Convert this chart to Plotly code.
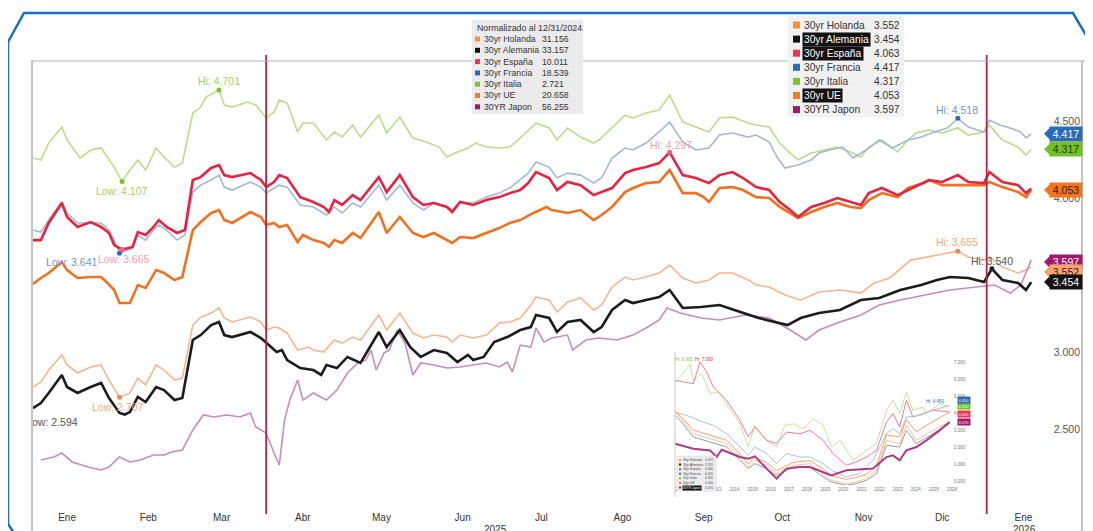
import numpy as np
import pandas as pd
import plotly.graph_objects as go

START = pd.Timestamp("2025-01-02")
FONT = "Liberation Sans, Arial, sans-serif"

# ---------------- main chart data (day offset from 2025-01-02, yield %) ----------------
italia_day = [0, 3, 6, 11, 13, 18, 22, 26, 31, 34, 37, 40, 43, 47, 50, 54, 57, 61, 64, 66, 69, 71, 73, 76, 82, 85,
              89, 92, 94, 97, 101, 103, 107, 112, 115, 118, 122, 125, 132, 135, 140, 145, 150, 155, 158, 162, 166,
              169, 173, 178, 182, 186, 192, 197, 200, 204, 209, 214, 216, 221, 226, 229, 234, 239, 243, 248, 253,
              258, 262, 267, 273, 276, 281, 285, 289, 292, 297, 302, 307, 312, 316, 319, 324, 330, 334, 337, 342,
              347, 353, 357, 363, 365, 370, 376, 379, 381]
italia_val = [4.260, 4.247, 4.357, 4.461, 4.377, 4.260, 4.312, 4.325, 4.201, 4.107, 4.182, 4.247, 4.182, 4.325,
              4.266, 4.201, 4.227, 4.552, 4.591, 4.656, 4.682, 4.701, 4.604, 4.591, 4.623, 4.604, 4.520, 4.558,
              4.636, 4.617, 4.429, 4.487, 4.487, 4.377, 4.429, 4.396, 4.474, 4.396, 4.539, 4.422, 4.526, 4.390,
              4.364, 4.331, 4.266, 4.299, 4.325, 4.357, 4.331, 4.325, 4.331, 4.390, 4.487, 4.455, 4.377, 4.455,
              4.396, 4.357, 4.377, 4.461, 4.539, 4.520, 4.552, 4.571, 4.669, 4.494, 4.461, 4.429, 4.520, 4.526,
              4.487, 4.474, 4.461, 4.357, 4.292, 4.247, 4.292, 4.312, 4.331, 4.299, 4.266, 4.331, 4.377, 4.299,
              4.377, 4.422, 4.442, 4.422, 4.455, 4.409, 4.429, 4.474, 4.377, 4.331, 4.279, 4.317]

espana_day = [0, 3, 6, 11, 13, 17, 22, 26, 29, 31, 34, 38, 40, 43, 46, 48, 51, 55, 58, 61, 64, 68, 71, 73, 76, 83,
              87, 89, 92, 94, 97, 102, 107, 111, 113, 115, 118, 122, 125, 132, 135, 140, 145, 149, 153, 158, 160,
              163, 168, 173, 178, 182, 186, 189, 192, 197, 200, 204, 209, 214, 217, 221, 226, 229, 234, 239, 243,
              248, 253, 258, 262, 267, 271, 276, 281, 285, 289, 292, 297, 302, 307, 312, 316, 319, 324, 330, 334,
              340, 342, 347, 353, 357, 363, 365, 370, 376, 379, 381]
espana_val = [3.727, 3.727, 3.838, 3.968, 3.877, 3.812, 3.844, 3.812, 3.773, 3.695, 3.665, 3.682, 3.779, 3.760,
              3.812, 3.857, 3.812, 3.773, 3.792, 4.117, 4.136, 4.195, 4.214, 4.149, 4.136, 4.162, 4.117, 4.071,
              4.104, 4.149, 4.130, 4.006, 3.974, 3.942, 3.909, 3.987, 3.955, 4.019, 3.987, 4.136, 4.039, 4.149,
              4.006, 3.955, 3.968, 3.942, 3.909, 3.974, 3.955, 3.987, 4.006, 4.032, 4.052, 4.097, 4.169, 4.130,
              4.052, 4.104, 4.084, 4.019, 4.039, 4.065, 4.162, 4.182, 4.201, 4.227, 4.297, 4.149, 4.130, 4.097,
              4.149, 4.169, 4.130, 4.071, 4.052, 3.974, 3.922, 3.877, 3.942, 3.968, 4.000, 3.974, 3.955, 4.032,
              4.065, 4.019, 4.052, 4.097, 4.117, 4.104, 4.149, 4.104, 4.097, 4.169, 4.104, 4.084, 4.032, 4.063]

francia_day = [0, 3, 6, 11, 13, 17, 22, 26, 29, 31, 33, 38, 40, 43, 46, 48, 51, 55, 58, 61, 64, 68, 71, 73, 76, 83,
               87, 89, 92, 94, 97, 102, 107, 112, 115, 118, 122, 125, 132, 135, 140, 145, 149, 153, 158, 160, 163,
               168, 173, 178, 182, 189, 192, 197, 200, 204, 209, 214, 217, 221, 226, 229, 234, 239, 243, 248, 253,
               258, 262, 267, 273, 276, 281, 284, 287, 292, 297, 300, 304, 309, 313, 318, 323, 328, 334, 339, 344,
               349, 353, 357, 363, 365, 369, 373, 377, 379, 381]
francia_val = [3.792, 3.779, 3.857, 3.974, 3.903, 3.838, 3.838, 3.838, 3.792, 3.727, 3.641, 3.675, 3.760, 3.727,
               3.792, 3.825, 3.792, 3.727, 3.760, 4.039, 4.084, 4.117, 4.149, 4.071, 4.052, 4.104, 4.071, 4.032,
               4.065, 4.084, 4.071, 3.955, 3.942, 3.890, 3.942, 3.903, 3.968, 3.942, 4.084, 3.987, 4.084, 3.968,
               3.922, 3.968, 3.942, 3.922, 3.974, 3.968, 4.006, 4.032, 4.065, 4.162, 4.234, 4.201, 4.130, 4.162,
               4.149, 4.097, 4.130, 4.260, 4.325, 4.312, 4.357, 4.429, 4.494, 4.364, 4.312, 4.325, 4.409, 4.422,
               4.396, 4.409, 4.364, 4.266, 4.195, 4.214, 4.247, 4.292, 4.312, 4.331, 4.260, 4.312, 4.377, 4.325,
               4.377, 4.396, 4.429, 4.455, 4.518, 4.461, 4.429, 4.506, 4.474, 4.455, 4.429, 4.390, 4.417]

ue_day = [0, 3, 6, 11, 13, 17, 22, 26, 28, 31, 33, 37, 40, 43, 47, 50, 54, 57, 61, 64, 68, 71, 73, 76, 83, 87, 89,
          92, 94, 97, 101, 103, 107, 111, 113, 115, 118, 122, 125, 132, 135, 140, 145, 149, 153, 158, 160, 163, 168,
          173, 178, 182, 186, 191, 196, 198, 204, 209, 214, 217, 221, 226, 229, 234, 239, 243, 248, 253, 256, 258,
          262, 267, 271, 276, 281, 285, 289, 292, 297, 302, 307, 312, 316, 319, 324, 330, 334, 340, 342, 347, 353,
          357, 363, 365, 370, 376, 379, 381]
ue_val = [3.442, 3.481, 3.513, 3.584, 3.532, 3.481, 3.487, 3.487, 3.455, 3.403, 3.318, 3.318, 3.435, 3.416, 3.532,
          3.513, 3.468, 3.487, 3.792, 3.844, 3.903, 3.922, 3.857, 3.838, 3.909, 3.877, 3.825, 3.838, 3.812, 3.825,
          3.714, 3.760, 3.727, 3.708, 3.682, 3.727, 3.708, 3.773, 3.740, 3.909, 3.773, 3.877, 3.773, 3.747, 3.773,
          3.727, 3.708, 3.747, 3.740, 3.773, 3.805, 3.838, 3.857, 3.903, 3.942, 3.922, 3.903, 3.922, 3.857, 3.890,
          3.942, 4.039, 4.065, 4.097, 4.104, 4.182, 4.032, 4.032, 4.006, 3.974, 4.065, 4.071, 4.052, 4.006, 4.000,
          3.942, 3.903, 3.870, 3.909, 3.942, 3.968, 3.942, 3.935, 3.987, 4.032, 4.006, 4.065, 4.097, 4.117, 4.084,
          4.084, 4.084, 4.084, 4.104, 4.071, 4.039, 4.006, 4.053]

holanda_day = [0, 3, 6, 11, 13, 17, 22, 26, 29, 33, 37, 40, 43, 47, 50, 54, 57, 61, 64, 68, 71, 73, 76, 83, 87, 89,
               92, 94, 97, 101, 105, 107, 111, 115, 118, 122, 125, 132, 135, 140, 145, 149, 153, 158, 160, 163, 168,
               173, 178, 182, 186, 190, 192, 197, 200, 204, 209, 214, 217, 221, 226, 229, 234, 239, 243, 248, 253,
               258, 262, 267, 273, 276, 281, 287, 293, 300, 308, 316, 321, 327, 335, 345, 353, 357, 363, 365, 370,
               376, 379, 381]
holanda_val = [2.773, 2.805, 2.883, 2.981, 2.916, 2.864, 2.903, 2.916, 2.818, 2.707, 2.734, 2.831, 2.786, 2.916,
               2.883, 2.818, 2.831, 3.175, 3.227, 3.253, 3.286, 3.221, 3.195, 3.227, 3.195, 3.143, 3.162, 3.156,
               3.123, 3.013, 3.032, 3.013, 3.000, 3.078, 3.058, 3.097, 3.078, 3.240, 3.143, 3.253, 3.123, 3.091,
               3.110, 3.097, 3.065, 3.110, 3.091, 3.110, 3.188, 3.195, 3.221, 3.305, 3.357, 3.338, 3.260, 3.325,
               3.351, 3.273, 3.305, 3.422, 3.487, 3.468, 3.487, 3.513, 3.565, 3.481, 3.448, 3.468, 3.513, 3.513,
               3.468, 3.435, 3.422, 3.370, 3.338, 3.390, 3.403, 3.383, 3.448, 3.481, 3.597, 3.630, 3.655, 3.617,
               3.597, 3.617, 3.552, 3.513, 3.532, 3.552]

alemania_day = [0, 3, 6, 11, 13, 17, 22, 26, 29, 33, 35, 37, 40, 43, 47, 50, 54, 57, 61, 64, 68, 71, 73, 76, 83, 87,
                90, 93, 95, 97, 102, 107, 110, 112, 116, 120, 125, 129, 132, 135, 140, 144, 148, 153, 158, 162, 166,
                168, 172, 176, 181, 186, 190, 192, 197, 200, 204, 209, 214, 217, 221, 226, 229, 234, 239, 243, 248,
                255, 262, 270, 277, 288, 293, 300, 308, 316, 323, 331, 339, 345, 350, 357, 363, 366, 370, 376, 379,
                381]
alemania_val = [2.636, 2.669, 2.734, 2.851, 2.773, 2.734, 2.773, 2.799, 2.701, 2.604, 2.594, 2.610, 2.708, 2.675,
                2.773, 2.753, 2.688, 2.701, 3.078, 3.110, 3.175, 3.195, 3.110, 3.097, 3.130, 3.091, 3.045, 3.000,
                3.013, 2.948, 2.896, 2.883, 2.851, 2.916, 2.896, 2.968, 2.929, 3.045, 3.130, 3.032, 3.143, 3.032,
                2.968, 3.013, 2.994, 2.935, 2.981, 2.948, 2.968, 3.065, 3.097, 3.143, 3.162, 3.240, 3.221, 3.130,
                3.195, 3.208, 3.130, 3.162, 3.273, 3.338, 3.318, 3.338, 3.357, 3.403, 3.286, 3.292, 3.305, 3.260,
                3.221, 3.175, 3.221, 3.253, 3.273, 3.338, 3.351, 3.403, 3.435, 3.468, 3.487, 3.481, 3.455, 3.540,
                3.468, 3.448, 3.403, 3.454]

japon_day = [3, 8, 11, 15, 21, 26, 29, 33, 37, 41, 46, 50, 53, 57, 61, 65, 69, 74, 79, 83, 85, 89, 92, 94, 96, 98,
             101, 103, 107, 110, 112, 116, 120, 124, 127, 129, 131, 134, 136, 139, 142, 145, 148, 153, 158, 163, 168,
             173, 178, 181, 183, 186, 190, 192, 195, 198, 204, 206, 211, 216, 223, 229, 234, 239, 242, 247, 255, 262,
             272, 281, 289, 295, 300, 308, 316, 323, 331, 340, 350, 360, 367, 373, 377, 381]
japon_val = [2.299, 2.318, 2.344, 2.286, 2.253, 2.234, 2.253, 2.318, 2.286, 2.299, 2.331, 2.331, 2.351, 2.364, 2.494,
             2.591, 2.578, 2.591, 2.578, 2.604, 2.513, 2.474, 2.344, 2.266, 2.558, 2.688, 2.818, 2.688, 2.734, 2.708,
             2.688, 2.753, 2.864, 2.929, 2.948, 3.013, 2.883, 2.994, 3.013, 3.143, 3.058, 2.851, 2.929, 2.916, 2.896,
             2.903, 2.916, 2.929, 2.903, 2.935, 2.870, 3.045, 3.032, 3.156, 3.065, 3.091, 3.110, 3.013, 3.078, 3.091,
             3.078, 3.110, 3.156, 3.208, 3.286, 3.253, 3.221, 3.208, 3.240, 3.221, 3.143, 3.078, 3.143, 3.195, 3.240,
             3.305, 3.338, 3.370, 3.403, 3.422, 3.435, 3.383, 3.435, 3.597]

series_names = ["30yr Holanda", "30yr Alemania", "30yr España", "30yr Francia", "30yr Italia", "30yr UE", "30YR Japon"]
norm_title = "Normalizado al 12/31/2024"
norm_vals = [31.156, 33.157, 10.011, 18.539, 2.721, 20.658, 56.255]
month_labels = ["Ene", "Feb", "Mar", "Abr", "May", "Jun", "Jul", "Ago", "Sep", "Oct", "Nov", "Dic", "Ene"]
year_labels = ["2025", "2026"]
event_dates = ["2025-04-01", "2026-01-01"]
ytick_vals = [2.5, 3.0, 3.5, 4.0, 4.5]

# ---------------- inset (long history) data: decimal year, yield % ----------------
in_italia_yr = [2010.72, 2011.55, 2011.73, 2012.19, 2012.65, 2013.11, 2013.57, 2014.30, 2014.76, 2015.13, 2015.77,
                2016.32, 2016.78, 2017.24, 2017.79, 2018.34, 2018.89, 2019.35, 2019.81, 2020.54, 2021.28, 2021.83,
                2022.38, 2022.74, 2023.11, 2023.48, 2023.84, 2024.39, 2024.58, 2025.31, 2025.86]
in_italia = [5.73, 6.90, 5.92, 6.31, 5.14, 5.24, 4.55, 3.37, 2.00, 3.27, 2.39, 2.00, 3.27, 3.37, 3.08, 3.67, 3.27,
             2.00, 2.39, 1.22, 1.80, 2.20, 4.16, 4.75, 3.96, 5.24, 4.16, 4.35, 3.96, 4.55, 4.35]
in_espana_yr = [2010.72, 2011.73, 2012.10, 2012.47, 2012.83, 2013.57, 2014.30, 2014.76, 2015.13, 2015.77, 2016.32,
                2016.87, 2017.61, 2018.16, 2018.89, 2019.44, 2020.17, 2020.72, 2021.28, 2021.83, 2022.38, 2022.74,
                2023.11, 2023.48, 2023.84, 2024.39, 2024.94, 2025.86]
in_espana = [5.92, 5.73, 7.00, 6.41, 5.53, 4.75, 3.57, 2.59, 3.18, 2.39, 2.20, 2.88, 2.78, 2.98, 2.39, 1.61, 0.92,
             1.12, 1.41, 1.80, 3.47, 3.96, 3.18, 4.75, 3.76, 3.96, 4.16, 4.06]
in_francia_yr = [2010.72, 2011.37, 2012.28, 2012.83, 2013.57, 2014.30, 2014.76, 2015.13, 2015.77, 2016.32, 2016.87,
                 2017.61, 2018.16, 2018.89, 2019.35, 2020.17, 2020.91, 2021.64, 2022.38, 2022.74, 2023.11, 2023.48,
                 2024.21, 2024.94, 2025.86]
in_francia = [4.06, 3.86, 3.47, 3.27, 2.78, 2.00, 1.51, 2.00, 1.61, 1.02, 1.61, 1.41, 1.41, 1.02, 0.63, 0.24, 0.43,
              1.22, 2.78, 3.08, 2.78, 3.76, 3.86, 4.16, 4.45]
in_core_yr = [2010.72, 2011.00, 2011.73, 2012.65, 2013.57, 2014.30, 2014.76, 2015.13, 2015.77, 2016.32, 2017.24,
              2018.16, 2018.89, 2019.35, 2020.17, 2020.68, 2021.28, 2021.83, 2022.38, 2023.11, 2023.48, 2024.03,
              2024.94, 2025.86]
in_holanda = [4.06, 3.76, 2.78, 2.49, 2.20, 1.41, 0.82, 1.22, 0.92, 0.43, 0.92, 1.02, 0.43, 0.04, -0.16, -0.06, 0.14,
              0.63, 2.39, 2.20, 3.27, 2.39, 2.98, 3.47]
in_alemania = [3.86, 3.57, 2.59, 2.29, 2.00, 1.22, 0.73, 1.02, 0.73, 0.33, 0.82, 0.82, 0.24, -0.06, -0.25, -0.16,
               0.04, 0.43, 2.10, 2.00, 2.98, 2.20, 2.78, 3.37]
in_ue = [4.10, 3.85, 3.00, 2.70, 2.40, 1.60, 1.00, 1.40, 1.10, 0.60, 1.10, 1.20, 0.70, 0.30, 0.10, 0.20, 0.40, 0.90,
         2.70, 2.60, 3.60, 2.90, 3.50, 4.05]
in_japon_yr = [2010.72, 2011.73, 2012.65, 2013.02, 2013.29, 2013.57, 2014.30, 2014.76, 2015.13, 2015.77, 2016.32,
               2016.87, 2017.61, 2018.16, 2018.89, 2019.35, 2020.17, 2020.91, 2021.64, 2022.38, 2022.74, 2023.11,
               2023.48, 2024.03, 2024.58, 2025.31, 2025.86]
in_japon = [2.20, 1.90, 1.80, 1.41, 1.84, 1.71, 1.41, 1.31, 1.45, 0.73, 0.14, 0.73, 0.82, 0.82, 0.53, 0.33, 0.63,
            0.67, 0.73, 1.41, 1.51, 1.22, 1.80, 2.00, 2.39, 2.98, 3.47]
inset_years = list(range(2011, 2027))
inset_yticks = list(range(0, 8))

# ---------------- helpers (page pixel layout -> paper coords) ----------------
# the page body has an 8px margin, so figure pixel = page pixel - 8
W, H = 1093, 531
L, R, T, B = 25, 18, 53, 29
PW, PH = W - L - R, H - T - B          # 1050 x 449
def px(x):   # page x pixel -> paper x
    return (x - 33) / PW
def py(y):   # page y pixel -> paper y
    return (510 - y) / PH

PX_PER_DAY = 2.62
YMIN, YMAX = 1.974, 4.890
def dates(days):
    return [START + pd.Timedelta(days=d) for d in days]

S = {
    "holanda": dict(d=holanda_day, v=holanda_val, c="#f5b690", w=1.6, sq="#f7913f", tag="#f8a46c", tf="#3b2010",
                    lab="#f2a77c", dot="#f08a4b"),
    "alemania": dict(d=alemania_day, v=alemania_val, c="#1c1c1c", w=2.6, sq="#111111", tag="#141414", tf="#ffffff",
                     lab="#555555", dot="#222222"),
    "espana": dict(d=espana_day, v=espana_val, c="#e8233f", w=2.6, sq="#ec3457", tag="#ec3457", tf="#ffffff",
                   lab="#f3a0b5", dot="#f06080"),
    "francia": dict(d=francia_day, v=francia_val, c="#a3b9d3", w=1.6, sq="#2d6cb5", tag="#2a6cb6", tf="#ffffff",
                    lab="#7397c4", dot="#2d6cb5"),
    "italia": dict(d=italia_day, v=italia_val, c="#b9de8a", w=1.6, sq="#7cc42e", tag="#74c028", tf="#1e3a05",
                   lab="#a2d064", dot="#7cc42e"),
    "ue": dict(d=ue_day, v=ue_val, c="#f27121", w=2.6, sq="#f47b20", tag="#f47521", tf="#3a1800",
               lab="#f27121", dot="#f27121"),
    "japon": dict(d=japon_day, v=japon_val, c="#c98cb8", w=1.6, sq="#9c1a6a", tag="#a0196e", tf="#ffffff",
                  lab="#c070a0", dot="#a0196e"),
}
order_keys = ["holanda", "alemania", "espana", "francia", "italia", "ue", "japon"]

fig = go.Figure()

for k in ["italia", "francia", "holanda", "japon", "ue", "espana", "alemania"]:
    s = S[k]
    fig.add_trace(go.Scatter(x=dates(s["d"]), y=s["v"], mode="lines", line=dict(color=s["c"], width=s["w"]),
                             hoverinfo="skip", showlegend=False, xaxis="x", yaxis="y"))

annotations = []
shapes = []

def ann(x, y, text, size, color, xanchor="left", xref="paper", yref="paper", **kw):
    d = dict(x=x, y=y, xref=xref, yref=yref, text=text, showarrow=False, xanchor=xanchor, yanchor="middle",
             font=dict(family=FONT, size=size, color=color))
    d.update(kw)
    annotations.append(d)

# Hi / Low markers and labels
marks = [
    ("italia", "hi", 0, 9), ("italia", "lo", 0, -9),
    ("francia", "lo", -47, -9), ("espana", "lo", 2, -9),
    ("espana", "hi", 1, 7), ("francia", "hi", -1, 8),
    ("holanda", "hi", -1, 9), ("alemania", "hi", 0, 8),
    ("holanda", "lo", -1, -10),
]
dot_x, dot_y, dot_c = [], [], []
for k, kind, xs, ys in marks:
    s = S[k]
    i = int(np.argmax(s["v"])) if kind == "hi" else int(np.argmin(s["v"]))
    dx = START + pd.Timedelta(days=s["d"][i])
    val = s["v"][i]
    dot_x.append(dx); dot_y.append(val); dot_c.append(s["dot"])
    ann(dx, val, ("Hi: " if kind == "hi" else "Low: ") + f"{val:.3f}", 10.5, s["lab"], xanchor="center",
        xref="x", yref="y", xshift=xs, yshift=ys)
# Alemania low label is partly outside the plot area on the left and clipped there
s = S["alemania"]
i = int(np.argmin(s["v"]))
fig.add_trace(go.Scatter(x=[START + pd.Timedelta(days=s["d"][i] - 27.8)], y=[s["v"][i] - 0.060], mode="text",
                         text=[f"Low: {s['v'][i]:.3f}"], textposition="middle center", cliponaxis=True,
                         textfont=dict(family=FONT, size=10.5, color="#555555"), hoverinfo="skip", showlegend=False))
fig.add_trace(go.Scatter(x=dot_x, y=dot_y, mode="markers", marker=dict(color=dot_c, size=5),
                         hoverinfo="skip", showlegend=False))

# event lines
for d in event_dates:
    shapes.append(dict(type="line", xref="x", yref="paper", x0=d, x1=d, y0=py(514), y1=py(55),
                       line=dict(color="#a8243f", width=1.8), layer="above"))

# frame lines of the plot
shapes.append(dict(type="line", xref="paper", yref="paper", x0=px(31), x1=px(1090), y0=py(61), y1=py(61),
                   line=dict(color="#b0b0b0", width=1)))
shapes.append(dict(type="line", xref="paper", yref="paper", x0=px(32), x1=px(32), y0=py(61), y1=py(540),
                   line=dict(color="#9a9a9a", width=1.2)))
shapes.append(dict(type="line", xref="paper", yref="paper", x0=px(1082), x1=px(1082), y0=py(61), y1=py(540),
                   line=dict(color="#9a9a9a", width=1.2)))

# right-side value tags
UNIT = PH / (YMAX - YMIN)
tag_order = [("francia", 0), ("italia", 0), ("ue", 0), ("japon", -2), ("holanda", -5), ("alemania", 0)]
for k, shift in tag_order:
    s = S[k]
    v = s["v"][-1]
    yv = v + shift / UNIT
    dy = 7 / UNIT
    shapes.append(dict(type="path", xref="paper", yref="y",
                       path=f"M {px(1044)},{yv} L {px(1051)},{yv + dy} L {px(1051)},{yv - dy} Z",
                       fillcolor=s["tag"], line=dict(width=0), layer="above"))
    ann(px(1066), yv, f"{v:.3f}", 10.5, s["tf"], xanchor="center", yref="y",
        bgcolor=s["tag"], borderpad=1, width=30, height=12)

# legend box 1 (normalised)
shapes.append(dict(type="rect", xref="paper", yref="paper", x0=px(472), x1=px(583), y0=py(114), y1=py(20),
                   fillcolor="#ebebeb", line=dict(width=0), layer="above"))
ann(px(475), py(28), norm_title, 8.8, "#333333")
for j, k in enumerate(order_keys):
    yy = 39 + j * 11.3
    shapes.append(dict(type="rect", xref="paper", yref="paper", x0=px(475), x1=px(480), y0=py(yy + 2.5),
                       y1=py(yy - 2.5), fillcolor=S[k]["sq"], line=dict(width=0), layer="above"))
    ann(px(482), py(yy), series_names[j], 8.7, "#333333")
    ann(px(540), py(yy), f"{norm_vals[j]:.3f}", 8.7, "#333333")

# legend box 2 (last values)
highlight = {"alemania", "espana", "ue"}
shapes.append(dict(type="rect", xref="paper", yref="paper", x0=px(788), x1=px(904), y0=py(117), y1=py(16),
                   fillcolor="#f1f1f1", line=dict(width=0), layer="above"))
for j, k in enumerate(order_keys):
    yy = 25 + j * 14.1
    shapes.append(dict(type="rect", xref="paper", yref="paper", x0=px(793), x1=px(800), y0=py(yy + 3.5),
                       y1=py(yy - 3.5), fillcolor=S[k]["sq"], line=dict(width=0), layer="above"))
    hl = k in highlight
    ann(px(802), py(yy), series_names[j], 10.2, "#ffffff" if hl else "#333333",
        bgcolor="#111111" if hl else "rgba(0,0,0,0)", borderpad=1)
    ann(px(902), py(yy), f"{S[k]['v'][-1]:.3f}", 10.2, "#333333", xanchor="right")

# year labels under the month labels
ann(px(495), py(529), year_labels[0], 10, "#333333", xanchor="center")
ann(px(1024), py(529), year_labels[1], 10, "#333333", xanchor="center")

# ---------------- inset ----------------
inset = [
    ("italia", in_italia_yr, in_italia, "#c3e69c", 1.0),
    ("espana", in_espana_yr, in_espana, "#f27b95", 1.0),
    ("francia", in_francia_yr, in_francia, "#a9c2de", 1.0),
    ("holanda", in_core_yr, in_holanda, "#f7c3a3", 1.0),
    ("ue", in_core_yr, in_ue, "#f5a465", 1.0),
    ("alemania", in_core_yr, in_alemania, "#9a9a9a", 1.0),
    ("japon", in_japon_yr, in_japon, "#b03a86", 2.0),
]
for k, xs, ys, col, w in inset:
    fig.add_trace(go.Scatter(x=xs, y=ys, mode="lines", line=dict(color=col, width=w), hoverinfo="skip",
                             showlegend=False, xaxis="x2", yaxis="y2"))
shapes.append(dict(type="line", xref="paper", yref="paper", x0=px(675), x1=px(675), y0=py(497), y1=py(352),
                   line=dict(color="#cccccc", width=1)))
for k, xs, ys, col, kind, xsh, ysh in [("italia", in_italia_yr, in_italia, "#8cc63f", "hi", -6, 4),
                                       ("espana", in_espana_yr, in_espana, "#e8233f", "hi", 4, 3),
                                       ("francia", in_francia_yr, in_francia, "#2d6cb5", "hi", -14, 4),
                                       ("alemania", in_core_yr, in_alemania, "#333333", "lo", -8, -5)]:
    i = int(np.argmax(ys)) if kind == "hi" else int(np.argmin(ys))
    ann(xs[i], ys[i], ("Hi: " if kind == "hi" else "Low: ") + f"{ys[i]:.3f}", 4.5, col, xanchor="center",
        xref="x2", yref="y2", xshift=xsh, yshift=ysh)
shapes.append(dict(type="rect", xref="paper", yref="paper", x0=px(677), x1=px(716), y0=py(491), y1=py(456),
                   fillcolor="#eeeeee", line=dict(color="#cccccc", width=0.5), layer="above"))
inset_last = {k: ys[-1] for k, xs, ys, col, w in inset}
for j, k in enumerate(order_keys):
    yy = 460 + j * 4.6
    shapes.append(dict(type="rect", xref="paper", yref="paper", x0=px(679), x1=px(681), y0=py(yy + 1),
                       y1=py(yy - 1), fillcolor=S[k]["sq"], line=dict(width=0), layer="above"))
    hl = k == "japon"
    ann(px(682), py(yy), series_names[j], 3.2, "#ffffff" if hl else "#444444",
        bgcolor="#111111" if hl else "rgba(0,0,0,0)", borderpad=0)
    ann(px(715), py(yy), f"{inset_last[k]:.3f}", 3.2, "#444444", xanchor="right")
# inset value tags stacked on the right edge
for k, ysh in [("japon", 0), ("espana", -2), ("italia", 1), ("francia", 5)]:
    v = inset_last[k]
    ann(2026.05, v, f"{v:.3f}", 4, "#ffffff", xref="x2", yref="y2", xshift=4, yshift=ysh,
        bgcolor=S[k]["tag"], borderpad=0.5)

# blue outer frame with chamfered corners
frame = (f"M {px(8)},{py(524)} L {px(8)},{py(42)} L {px(24)},{py(13)} L {px(1073)},{py(13)} "
         f"L {px(1090)},{py(42)} L {px(1090)},{py(524)} L {px(1083)},{py(536)} "
         f"M {px(8)},{py(524)} L {px(16)},{py(536)}")
shapes.append(dict(type="path", xref="paper", yref="paper", path=frame, line=dict(color="#1b6ec2", width=2.5)))

month_ticks = [pd.Timestamp(2025 + m // 12, m % 12 + 1, 15) for m in range(13)]

fig.update_layout(
    width=W, height=H,
    margin=dict(l=L, r=R, t=T, b=B, pad=0),
    paper_bgcolor="white", plot_bgcolor="white",
    font=dict(family=FONT, color="#333333"),
    showlegend=False,
    xaxis=dict(type="date", domain=[0, 1], anchor="y",
               range=[START, START + pd.Timedelta(days=PW / PX_PER_DAY)],
               tickvals=month_ticks, ticktext=month_labels, ticks="", showgrid=False, zeroline=False,
               showline=False, tickfont=dict(family=FONT, size=10, color="#333333")),
    yaxis=dict(domain=[0, 1], anchor="x", range=[YMIN, YMAX], side="right", ticklabelposition="inside",
               tickvals=ytick_vals, ticktext=[f"{v:.3f}" for v in ytick_vals], ticks="", showgrid=False,
               zeroline=False, showline=False, tickfont=dict(family=FONT, size=10.5, color="#555555")),
    xaxis2=dict(domain=[px(675), px(953)], anchor="y2", range=[2010.72, 2026.05], tickvals=inset_years,
                ticktext=[str(y) for y in inset_years], ticks="", showgrid=False, zeroline=False, showline=False,
                tickfont=dict(family=FONT, size=4.5, color="#777777")),
    yaxis2=dict(domain=[py(485), py(360)], anchor="x2", range=[-0.235, 7.118], side="right",
                tickvals=inset_yticks, ticktext=[f"{v:.3f}" for v in inset_yticks], ticks="", showgrid=False,
                zeroline=False, showline=False, tickfont=dict(family=FONT, size=4.5, color="#777777")),
    shapes=shapes,
    annotations=annotations,
)

fig.write_html("out.html")
